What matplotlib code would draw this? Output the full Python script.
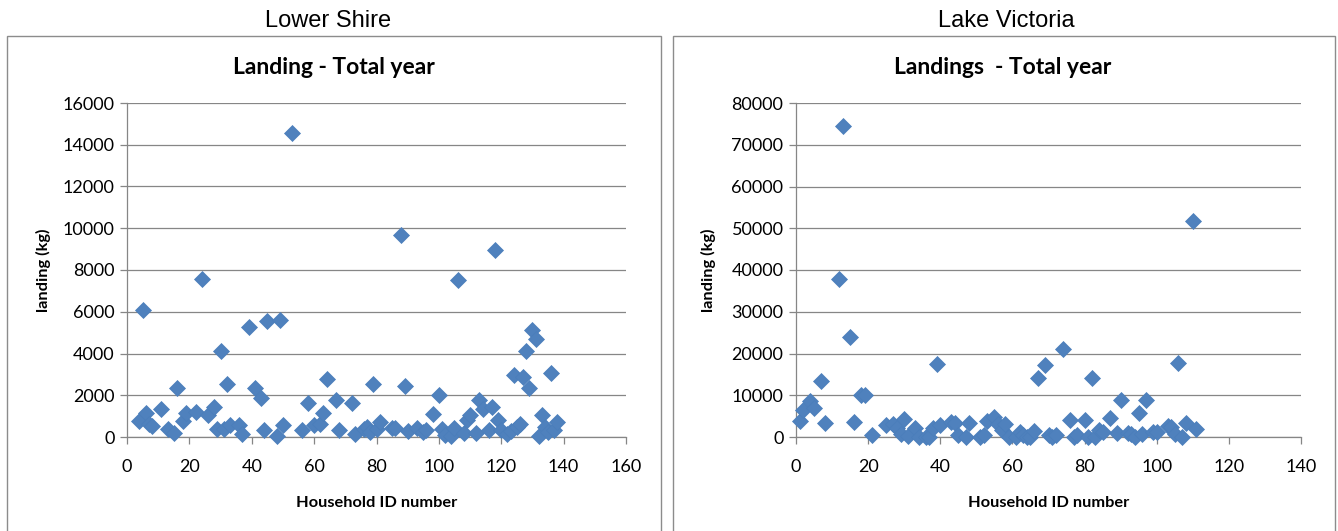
#!/usr/bin/env python3

"""Landings per household, Lower Shire vs Lake Victoria."""

###############################################################################
# Library imports
###############################################################################

import matplotlib

matplotlib.use("Agg")

import matplotlib.pyplot as plt
from matplotlib.patches import Rectangle

###############################################################################
# Data
###############################################################################

ls_id = [4, 5, 6, 7, 8, 11, 13, 15, 16, 18, 19, 22, 24, 26, 28, 29, 30, 31,
         32, 33, 36, 37, 39, 41, 43, 44, 45, 48, 49, 50, 53, 56, 58, 60, 62,
         63, 64, 67, 68, 72, 73, 76, 77, 78, 79, 80, 81, 85, 86, 88, 89, 90,
         93, 95, 96, 98, 100, 101, 102, 104, 105, 106, 108, 109, 110, 112,
         113, 114, 116, 117, 118, 119, 120, 122, 123, 124, 125, 126, 127, 128,
         129, 130, 131, 132, 133, 134, 135, 136, 137, 138]
ls_landing = [750, 6100, 1170, 640, 510, 1330, 370, 210, 2360, 750, 1150,
              1200, 7560, 1070, 1440, 400, 4120, 400, 2520, 590, 590, 130,
              5270, 2350, 1880, 350, 5560, 50, 5590, 560, 14540, 350, 1640,
              590, 640, 1150, 2760, 1790, 320, 1640, 160, 370, 480, 240, 2560,
              400, 720, 430, 450, 9660, 2430, 270, 450, 240, 350, 1120, 2030,
              400, 80, 30, 450, 7510, 210, 800, 1040, 210, 1760, 1360, 320,
              1440, 8950, 830, 320, 160, 290, 2950, 480, 640, 2880, 4100, 2350,
              5110, 4710, 50, 1040, 480, 240, 3080, 350, 720]

lv_id = [1, 2, 4, 5, 7, 8, 12, 13, 15, 16, 18, 19, 21, 25, 27, 28, 29, 30, 31,
         33, 34, 36, 37, 38, 39, 40, 43, 44, 45, 47, 48, 51, 52, 53, 55, 56,
         57, 58, 59, 61, 62, 63, 64, 65, 66, 67, 69, 70, 71, 72, 74, 76, 77,
         78, 80, 81, 82, 83, 84, 85, 87, 89, 90, 92, 93, 94, 95, 96, 97, 99,
         100, 103, 104, 105, 106, 107, 108, 110, 111]
lv_landing = [3840, 6560, 8640, 6960, 13360, 3440, 37840, 74560, 23840, 3600,
              10000, 10160, 400, 2960, 3200, 2160, 800, 4400, 160, 2160, 100,
              0, 50, 2160, 17600, 2800, 3500, 3300, 560, 100, 3440, 80, 400,
              3760, 4800, 3200, 1600, 3200, 100, 100, 1200, 560, 0, 100, 1440,
              14240, 17200, 400, 0, 400, 20960, 4160, 0, 400, 4000, 0, 14240,
              100, 1600, 1200, 4640, 1000, 8960, 1000, 800, 0, 5760, 800, 8960,
              1200, 1200, 2560, 2400, 800, 17840, 0, 3360, 51760, 1840]

###############################################################################
# Styling
###############################################################################

BLUE = "#4F81BD"
GREY = "#868686"
BORDER = "#8C8C8C"
CHART_FONT = ["Lato", "DejaVu Sans"]
PANEL_FONT = ["Liberation Sans", "DejaVu Sans"]

W, H = 1338, 531


def _px(x0, y0, x1, y1):
    """Pixel box (top-left origin) -> figure fraction rect."""
    return [x0 / W, 1 - y1 / H, (x1 - x0) / W, (y1 - y0) / H]


def _scatter_panel(fig, box, panel_box, x, y, xmax, ymax, ystep,
                   panel_title, chart_title, title_x, chart_title_x,
                   ylabel_x):
    fig.patches.append(Rectangle(
        (panel_box[0] / W, -0.05), (panel_box[1] - panel_box[0]) / W,
        1 - 36 / H + 0.05, transform=fig.transFigure, fill=False,
        edgecolor=BORDER, linewidth=1.0))

    fig.text(title_x / W, 1 - 21 / H, panel_title, ha="center", va="center",
             fontsize=17, family=PANEL_FONT)
    fig.text(chart_title_x / W, 1 - 68 / H, chart_title, ha="center",
             va="center", fontsize=16.5, fontweight="bold", family=CHART_FONT)

    ax = fig.add_axes(_px(*box))
    ax.plot(x, y, linestyle="none", marker="D", markersize=8.5,
            color=BLUE, markeredgecolor="#4A7EBB", markeredgewidth=0.5,
            clip_on=False, zorder=3)

    ax.set_xlim(0, xmax)
    ax.set_ylim(0, ymax)
    ax.set_xticks(range(0, xmax + 1, 20))
    ax.set_yticks(range(0, ymax + 1, ystep))

    ax.grid(True, axis="y", color=GREY, linewidth=0.9)
    ax.set_axisbelow(True)
    for side in ("top", "right"):
        ax.spines[side].set_visible(False)
    for side in ("left", "bottom"):
        ax.spines[side].set_color(GREY)
        ax.spines[side].set_linewidth(0.9)
    ax.tick_params(direction="out", length=5, width=0.9, color=GREY,
                   labelsize=13, pad=4)
    ax.tick_params(axis="x", pad=11)
    for lbl in ax.get_xticklabels() + ax.get_yticklabels():
        lbl.set_family(CHART_FONT)

    ax.set_xlabel("Household ID number", fontsize=11.8, fontweight="bold",
                  family=CHART_FONT)
    ax.set_ylabel("landing (kg)", fontsize=11.8, fontweight="bold",
                  family=CHART_FONT)
    ax.xaxis.set_label_coords(0.5, -(503 - 437 - 7) / (box[3] - box[1]))
    ax.yaxis.set_label_coords((ylabel_x + 8 - box[0]) / (box[2] - box[0]),
                              0.5)
    return ax


###############################################################################
# Main
###############################################################################


def main():
    fig = plt.figure(figsize=(W / 100, H / 100), dpi=100)

    _scatter_panel(fig, (127, 103, 626, 437), (7, 661), ls_id, ls_landing,
                   160, 16000, 2000, "Lower Shire", "Landing - Total year",
                   328, 334, 43)

    _scatter_panel(fig, (796, 103, 1301, 437), (673, 1335), lv_id,
                   lv_landing, 140, 80000, 10000, "Lake Victoria",
                   "Landings  - Total year", 1006, 1003, 708)

    fig.savefig("out.png", dpi=100)


if __name__ == "__main__":
    main()
